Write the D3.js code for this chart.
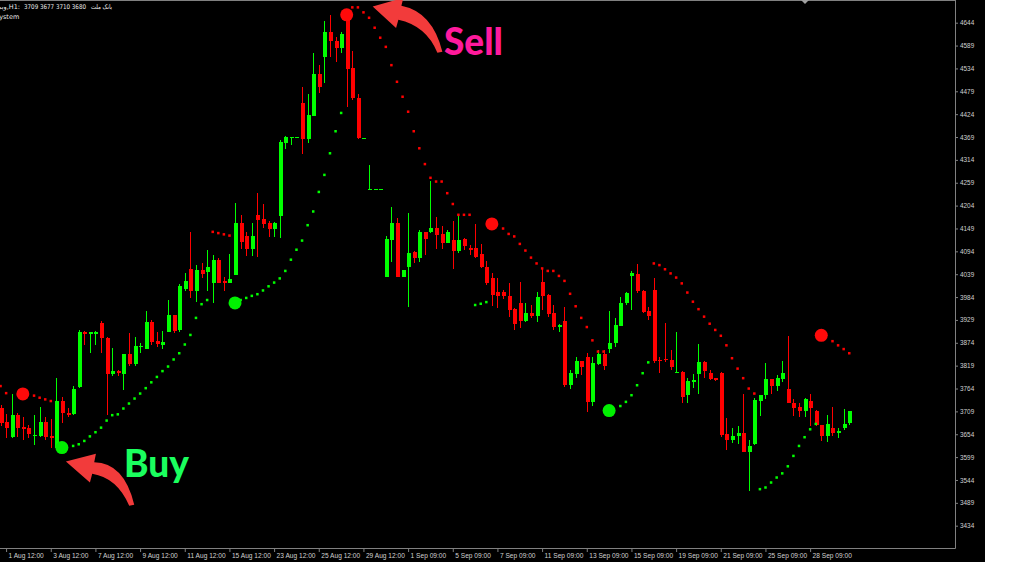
<!DOCTYPE html>
<html>
<head>
<meta charset="utf-8">
<title>وبملت H1</title>
<script src="https://cdn.jsdelivr.net/npm/d3@7"></script>
<style>
  * { margin: 0; padding: 0; }
  body { background: #fff; width: 1024px; height: 562px; overflow: hidden; }
  svg { display: block; }
  .axis text { fill: #d0d0d0; font-family: "Liberation Sans", Arial, sans-serif; }
  .axis line { stroke: #808080; }
</style>
</head>
<body>
<svg id="chart" width="1024" height="562"></svg>
<script>
// H1 candles, one per hour bar
const opens = [3718,3683,3647,3700,3671,3670,3649,3650,3683,3649,
  3620,3734,3706,3703,3768,3901,3894,3896,3921,3886,
  3799,3806,3799,3848,3823,3865,3859,3925,3878,3869,
  3899,3940,3905,4003,4051,3999,4049,4045,4019,4073,
  4023,4019,4037,4161,4132,4100,4181,4172,4161,4148,
  4180,4355,4367,4368,4452,4364,4420,4521,4562,4621,
  4600,4584,4667,4534,4464,4365,4243,4243,4243,4033,
  4121,4163,4033,4057,4093,4077,4140,4140,4151,4135,
  4115,4121,4095,4124,4102,4101,4088,4056,4031,3997,
  3997,3987,3955,3969,3926,3946,3938,4021,3989,3946,
  3911,3927,3772,3799,3830,3841,3732,3822,3846,3859,
  3873,3915,3969,4035,4039,3999,3950,4001,3833,3834,
  3833,3801,3804,3748,3780,3799,3828,3802,3789,3801,
  3655,3640,3650,3656,3612,3630,3735,3748,3787,3770,
  3787,3762,3728,3719,3711,3735,3711,3676,3650,3670,
  3656,3668,3680];
const highs = [3724,3703,3750,3705,3696,3676,3700,3720,3696,3691,
  3789,3743,3717,3770,3904,3902,3901,3902,3927,3888,
  3861,3809,3847,3897,3889,3873,3950,3930,3901,3903,
  3978,3941,4015,4043,4140,4061,4065,4097,4085,4079,
  4032,4088,4211,4181,4140,4161,4235,4207,4168,4165,
  4362,4371,4369,4369,4489,4472,4572,4542,4648,4663,
  4609,4621,4675,4576,4472,4367,4302,4244,4244,4131,
  4201,4175,4050,4187,4095,4145,4141,4262,4177,4155,
  4145,4168,4181,4125,4109,4160,4111,4071,4041,4031,
  4001,4019,3957,4020,3969,3965,3997,4051,3991,3965,
  3919,3961,3809,3841,3831,3850,3839,3857,3857,3950,
  3933,3985,3997,4047,4064,4001,3959,4029,3841,3921,
  3857,3901,3806,3789,3798,3871,3830,3809,3789,3804,
  3692,3668,3673,3751,3640,3740,3749,3825,3788,3797,
  3830,3890,3739,3728,3740,3751,3712,3677,3700,3719,
  3668,3715,3710];
const lows = [3674,3646,3646,3648,3640,3644,3628,3648,3640,3620,
  3618,3680,3696,3701,3766,3869,3849,3869,3850,3700,
  3795,3794,3760,3818,3818,3849,3858,3869,3865,3859,
  3899,3898,3899,3999,3981,3973,4029,3999,3969,4017,
  3999,4017,4036,4099,4083,4083,4081,4149,4129,4129,
  4125,4339,4350,4368,4328,4354,4420,4476,4500,4562,
  4550,4570,4442,4458,4364,4365,4243,4243,4243,4032,
  4069,4032,4032,3961,4065,4069,4085,4137,4100,4100,
  4114,4051,4089,4097,4085,4077,4053,4013,3962,3958,
  3979,3937,3905,3910,3925,3933,3925,3953,3937,3905,
  3901,3768,3762,3789,3797,3708,3723,3821,3809,3849,
  3865,3915,3965,3953,3993,3945,3929,3825,3802,3828,
  3809,3801,3728,3730,3766,3751,3789,3784,3783,3648,
  3616,3632,3631,3611,3518,3629,3698,3738,3750,3759,
  3780,3728,3698,3696,3696,3674,3674,3638,3636,3650,
  3644,3664,3677];
const closes = [3680,3670,3700,3668,3667,3655,3652,3683,3647,3646,
  3735,3704,3700,3762,3901,3894,3899,3901,3885,3799,
  3806,3801,3846,3823,3866,3867,3925,3876,3870,3877,
  3940,3903,4011,4023,3999,4049,4039,4056,4073,4019,
  4019,4027,4161,4116,4100,4132,4169,4160,4148,4161,
  4356,4370,4369,4369,4364,4422,4521,4489,4621,4600,
  4584,4618,4533,4463,4366,4367,4244,4244,4244,4123,
  4163,4033,4049,4091,4077,4140,4124,4151,4133,4115,
  4141,4095,4121,4108,4098,4080,4056,4019,3989,3987,
  3987,3953,3919,3926,3945,3939,3985,3987,3943,3912,
  3917,3772,3801,3830,3816,3732,3825,3846,3818,3873,
  3917,3969,3993,4041,3999,3949,3939,3830,3830,3833,
  3816,3803,3744,3782,3784,3828,3807,3787,3784,3652,
  3640,3650,3658,3612,3626,3736,3749,3787,3771,3789,
  3801,3728,3718,3711,3739,3716,3676,3650,3678,3658,
  3662,3679,3709];

// Parabolic SAR dots (null where a signal dot covers them)
const sar = [3770,3753,null,null,null,null,3747,3742,3738,3734,
  null,null,null,3626,3630,3638,3649,3659,3670,3687,
  3700,3702,3716,3728,3740,3752,3765,3779,3792,3806,
  3817,3834,3849,3870,3893,3934,3967,3977,4141,4138,
  4135,4132,null,3977,3982,3987,3991,4000,4010,4019,
  4029,4047,4074,4098,4120,4157,4190,4237,4278,4330,
  4383,4427,null,4681,4681,4669,4656,4632,4608,4586,
  4542,4502,4466,4430,4383,4342,4304,4271,4262,4262,
  4234,4208,4182,4182,4182,3965,3968,3972,null,null,
  4149,4136,4130,4112,4096,4079,4065,4053,4047,4047,
  4035,4023,3992,3962,3934,3912,3880,3853,3853,null,
  null,3722,3732,3748,3772,3801,3827,4065,4061,4051,
  4041,4031,4017,3995,3973,3955,3937,3920,3905,3891,
  3868,3837,3812,3789,3764,3752,3522,3526,3538,3550,
  3560,3577,3602,3626,3647,3666,3679,null,null,3878,
  3868,3859,3849];

// reversal signals (big dots)
const sigIndex = [4, 11, 42, 62, 88, 109, 147];
const sigValue = [3751, 3622, 3970, 4663, 4160, 3711, 3892];
const sigType  = ["sell", "buy", "buy", "sell", "sell", "buy", "sell"];

const priceTicks = [4644,4589,4534,4479,4424,4369,4314,4259,4204,4149,4094,4039,
  3984,3929,3874,3819,3764,3709,3654,3599,3544,3489,3434];
const timeIndex = [1,9,17,25,33,41,49,57,65,73,81,89,97,105,113,121,129,137,145];
const timeLabels = ["1 Aug 12:00","3 Aug 12:00","7 Aug 12:00","9 Aug 12:00","11 Aug 12:00",
  "15 Aug 12:00","23 Aug 12:00","25 Aug 12:00","29 Aug 12:00","1 Sep 09:00","5 Sep 09:00",
  "7 Sep 09:00","11 Sep 09:00","13 Sep 09:00","15 Sep 09:00","19 Sep 09:00","21 Sep 09:00",
  "25 Sep 09:00","28 Sep 09:00"];

const BULL = "#00ff00", BEAR = "#ff0000";
const axisX = 955, axisY = 548;

const svg = d3.select("#chart");
svg.append("rect").attr("width", 985).attr("height", 562).attr("fill", "#000");
svg.append("rect").attr("x", 985).attr("width", 39).attr("height", 562).attr("fill", "#fff");

const x = d3.scaleLinear().domain([0, opens.length - 1]).range([0.5, 849.2]);
const y = d3.scaleLinear().domain([3434, 4644]).range([525.7, 22.7]);

const data = opens.map((o, i) => ({ i, o, h: highs[i], l: lows[i], c: closes[i] }));

// candles
const cg = svg.append("g").attr("shape-rendering", "crispEdges");
cg.selectAll("line").data(data).enter().append("line")
  .attr("x1", d => Math.round(x(d.i)) + 0.5)
  .attr("x2", d => Math.round(x(d.i)) + 0.5)
  .attr("y1", d => y(d.h))
  .attr("y2", d => y(d.l))
  .attr("stroke", d => d.c >= d.o ? BULL : BEAR);
cg.selectAll("rect").data(data).enter().append("rect")
  .attr("x", d => Math.round(x(d.i)) - 1.5)
  .attr("width", 4)
  .attr("y", d => y(Math.max(d.o, d.c)))
  .attr("height", d => Math.max(1, Math.abs(y(d.o) - y(d.c))))
  .attr("fill", d => d.c >= d.o ? BULL : BEAR);

// SAR dots
const sarPts = sar.map((v, i) => ({ i, v })).filter(d => d.v !== null);
svg.append("g").selectAll("rect").data(sarPts).enter().append("rect")
  .attr("x", d => x(d.i) - 1.2)
  .attr("y", d => y(d.v) - 1.2)
  .attr("width", 2.5).attr("height", 2.5)
  .attr("fill", d => d.v > (highs[d.i] + lows[d.i]) / 2 ? BEAR : BULL);

// signal dots
const sigs = sigIndex.map((i, k) => ({ i, v: sigValue[k], t: sigType[k] }));
svg.append("g").selectAll("circle").data(sigs).enter().append("circle")
  .attr("cx", d => x(d.i))
  .attr("cy", d => y(d.v))
  .attr("r", 6.5)
  .attr("fill", d => d.t === "buy" ? "#00f000" : "#ff0a0a");

// axes
const yAxis = d3.axisRight(y).tickValues(priceTicks).tickSize(3).tickPadding(2).tickFormat(d3.format("d"));
const gy = svg.append("g").attr("class", "axis").attr("transform", `translate(${axisX},0)`).call(yAxis);
gy.select(".domain").remove();
gy.selectAll("text").style("font-size", "6.4px");

const xAxis = d3.axisBottom(x).tickValues(timeIndex).tickSize(4).tickFormat((d, k) => timeLabels[k]);
const gx = svg.append("g").attr("class", "axis").attr("transform", `translate(0,${axisY})`).call(xAxis);
gx.select(".domain").remove();
gx.selectAll("text").attr("text-anchor", "start").attr("x", 2).attr("y", 5).style("font-size", "6.6px");

svg.append("line").attr("x1", axisX + 0.5).attr("x2", axisX + 0.5).attr("y1", 0).attr("y2", axisY + 0.5)
  .attr("stroke", "#808080");
svg.append("line").attr("x1", 0).attr("x2", axisX + 0.5).attr("y1", axisY + 0.5).attr("y2", axisY + 0.5)
  .attr("stroke", "#808080");
svg.append("line").attr("x1", 0).attr("x2", axisX).attr("y1", 0.5).attr("y2", 0.5)
  .attr("stroke", "#808080");
svg.append("path").attr("d", "M801,0 L809,0 L805,4 Z").attr("fill", "#a0a0a0");

// header
const hdr = svg.append("g").style("font-family", "'DejaVu Sans', sans-serif").style("font-size", "6.5px").attr("fill", "#e8e8e8");
hdr.append("text").attr("x", 20).attr("y", 9).attr("direction", "ltr").attr("text-anchor", "end").text("وبملت,H1:");
const line1 = hdr.append("text").attr("y", 9).attr("direction", "ltr");
line1.append("tspan").attr("x", 24).attr("textLength", 62).attr("lengthAdjust", "spacingAndGlyphs")
  .text("3709 3677 3710 3680");
line1.append("tspan").attr("x", 91).attr("textLength", 21).attr("lengthAdjust", "spacingAndGlyphs")
  .text("بانک ملت");
hdr.append("text").attr("x", -5).attr("y", 19).text("System");

// annotations: curved arrows pointing at the buy / sell signal dots
const arrowColor = "#f23b3b";
function arrow(sx, sy, d) {
  svg.append("path").attr("transform", `translate(${sx},${sy})`).attr("d", d).attr("fill", arrowColor);
}
const buy = sigs[1], sell = sigs[3];
arrow(x(buy.i) + 4, y(buy.v) + 14,
  "M0,0 L30,-7.7 L28.3,0.8 Q58.3,1.3 68.3,43.3 L63.3,44.3 Q51.3,16.3 26.3,12.3 L24,21 Z");
arrow(x(sell.i) + 26, y(sell.v) - 8.3,
  "M0,0 L30.7,-8.7 L28.7,-0.7 Q59.7,5.3 69.7,45.3 L64.7,46.3 Q53.7,19.3 25.7,13.3 L23.4,21.6 Z");

svg.append("text").attr("x", 124).attr("y", 477).text("Buy")
  .style("font-family", "Lato, sans-serif").style("font-weight", 900).style("font-size", "37px").attr("fill", "#1aff5e");
svg.append("text").attr("x", 444).attr("y", 55).text("Sell")
  .style("font-family", "Lato, sans-serif").style("font-weight", 900).style("font-size", "37px").attr("fill", "#ff1a9c");
</script>
</body>
</html>
